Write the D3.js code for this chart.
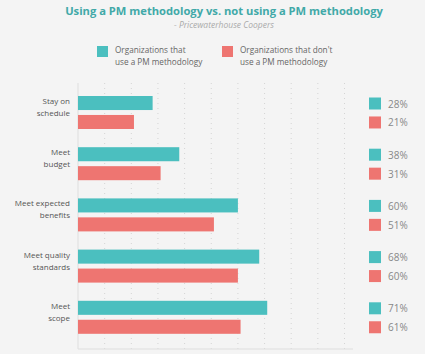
<!doctype html>
<html>
<head>
<meta charset="utf-8">
<script src="https://cdn.jsdelivr.net/npm/d3@7"></script>
<style>
  body { margin: 0; background: #f4f4f4; }
  svg { display: block; font-family: "Open Sans", sans-serif; }
</style>
</head>
<body>
<script>
const categories = [["Stay on", "schedule"], ["Meet", "budget"], ["Meet expected", "benefits"], ["Meet quality", "standards"], ["Meet", "scope"]];
const series = ["Organizations that use a PM methodology", "Organizations that don't use a PM methodology"];
const legendLines = [["Organizations that", "use a PM methodology"], ["Organizations that don't", "use a PM methodology"]];
const withPM = [28, 38, 60, 68, 71];
const withoutPM = [21, 31, 51, 60, 61];
const colors = ["#4bbfbf", "#ee7571"];

const width = 425, height = 354;
const margin = {top: 83, left: 78, bottom: 349};

const svg = d3.select("body").append("svg")
    .attr("width", width)
    .attr("height", height);

svg.append("rect").attr("width", width).attr("height", height).attr("fill", "#f4f4f4");

// title
svg.append("text")
    .attr("x", 224).attr("y", 15)
    .attr("text-anchor", "middle")
    .attr("font-weight", 700)
    .attr("font-size", 11.2)
    .attr("fill", "#41a9a8")
    .text("Using a PM methodology vs. not using a PM methodology");

svg.append("text")
    .attr("x", 224).attr("y", 28)
    .attr("text-anchor", "middle")
    .attr("font-style", "italic")
    .attr("font-size", 8.5)
    .attr("fill", "#aaa")
    .text("- Pricewaterhouse Coopers");

// legend
const legend = svg.append("g")
  .selectAll("g")
  .data(series)
  .join("g")
    .attr("transform", (d, i) => `translate(${i ? 222 : 97},46)`);

legend.append("rect")
    .attr("width", 11).attr("height", 11)
    .attr("fill", (d, i) => colors[i]);

legend.append("text")
    .attr("font-size", 8.2)
    .attr("fill", "#666")
  .selectAll("tspan")
  .data((d, i) => legendLines[i])
  .join("tspan")
    .attr("x", 18)
    .attr("y", (d, j) => 7 + j * 12)
    .text(d => d);

// scales
const x = d3.scaleLinear().domain([0, 100]).range([margin.left, margin.left + 266.5]);
const y = d3.scaleBand().domain(d3.range(categories.length)).range([88, 344]);
const sub = d3.scaleBand().domain([0, 1]).range([8, 41]).paddingInner(0.26);

// grid
svg.append("g")
  .selectAll("line")
  .data(d3.range(10, 101, 10))
  .join("line")
    .attr("x1", d => x(d)).attr("x2", d => x(d))
    .attr("y1", margin.top).attr("y2", margin.bottom)
    .attr("stroke", "#d4d4d4")
    .attr("stroke-dasharray", "1,4");

// axes lines
svg.append("line")
    .attr("x1", margin.left).attr("x2", margin.left)
    .attr("y1", margin.top).attr("y2", margin.bottom)
    .attr("stroke", "#dedede");
svg.append("line")
    .attr("x1", margin.left).attr("x2", 353)
    .attr("y1", margin.bottom).attr("y2", margin.bottom)
    .attr("stroke", "#dedede");

const rows = svg.append("g")
  .selectAll("g")
  .data(categories)
  .join("g")
    .attr("transform", (d, i) => `translate(0,${y(i)})`);

const values = (d, i) => [withPM[i], withoutPM[i]];

rows.selectAll("rect.bar")
  .data(values)
  .join("rect")
    .attr("class", "bar")
    .attr("x", x(0))
    .attr("y", (d, j) => sub(j))
    .attr("width", d => x(d) - x(0))
    .attr("height", sub.bandwidth())
    .attr("fill", (d, j) => colors[j]);

// category labels
rows.append("text")
    .attr("text-anchor", "end")
    .attr("font-size", 8)
    .attr("fill", "#555")
  .selectAll("tspan")
  .data(d => d)
  .join("tspan")
    .attr("x", 70)
    .attr("y", (d, j) => 16 + j * 12)
    .text(d => d);

// value legend on right
rows.selectAll("rect.key")
  .data(values)
  .join("rect")
    .attr("class", "key")
    .attr("x", 369)
    .attr("y", (d, j) => sub(j) + 1.5)
    .attr("width", 12).attr("height", 12)
    .attr("fill", (d, j) => colors[j]);

rows.selectAll("text.val")
  .data(values)
  .join("text")
    .attr("class", "val")
    .attr("x", 388)
    .attr("y", (d, j) => sub(j) + 11.5)
    .attr("font-size", 10)
    .attr("fill", "#888")
    .text(d => d + "%");
</script>
</body>
</html>
